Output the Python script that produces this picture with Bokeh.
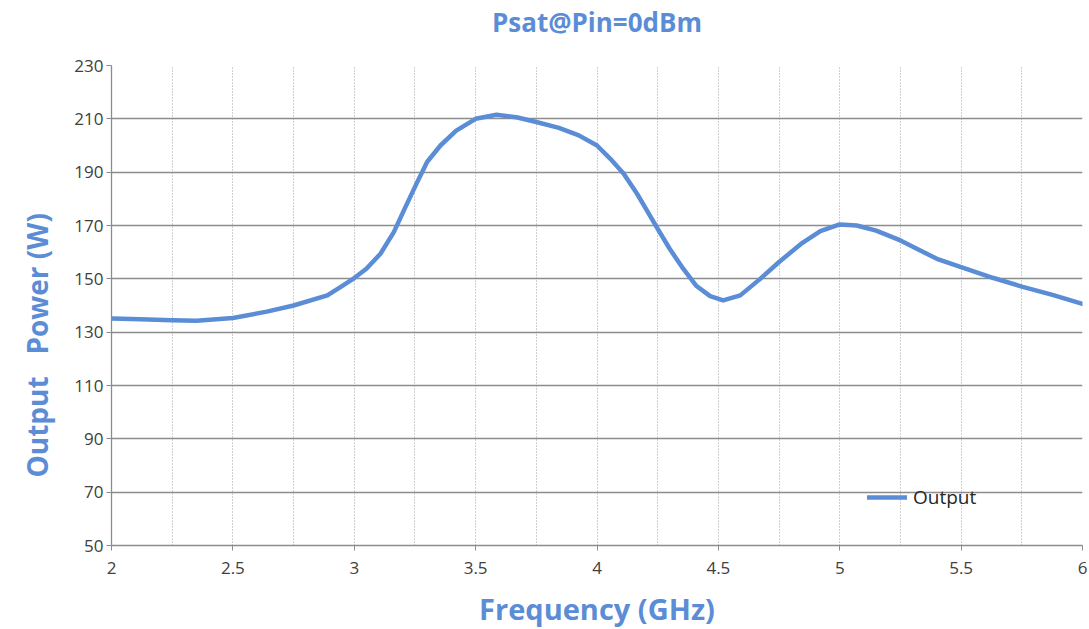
from bokeh.plotting import figure
from bokeh.models import (FixedTicker, NumeralTickFormatter, Range1d, Title, Legend,
                          LegendItem, LinearAxis)
from bokeh.embed import file_html
from bokeh.resources import INLINE

# Data
freq_ghz = [2.0, 2.12, 2.25, 2.35, 2.5, 2.64, 2.75, 2.889, 2.943, 3.0, 3.05, 3.108,
            3.163, 3.204, 3.256, 3.30, 3.355, 3.42, 3.5, 3.586, 3.668, 3.75, 3.843,
            3.925, 4.0, 4.055, 4.11, 4.165, 4.206, 4.25, 4.30, 4.355, 4.41, 4.466,
            4.52, 4.59, 4.67, 4.75, 4.84, 4.92, 5.0, 5.07, 5.15, 5.25, 5.40, 5.5,
            5.63, 5.75, 5.88, 6.0]
output_w = [135.1, 134.8, 134.5, 134.3, 135.3, 137.7, 140.0, 143.8, 146.9, 150.3, 153.8,
            159.4, 167.5, 175.6, 185.6, 193.8, 200.0, 205.6, 210.0, 211.5, 210.6, 208.8,
            206.6, 203.8, 200.0, 195.0, 189.4, 181.9, 175.6, 168.7, 161.2, 153.8, 147.3,
            143.5, 141.9, 143.8, 149.8, 156.3, 163.1, 167.9, 170.4, 170.0, 168.1, 164.4,
            157.5, 154.4, 150.4, 147.1, 143.9, 140.6]
x_ticks = [2, 2.5, 3, 3.5, 4, 4.5, 5, 5.5, 6]
x_grid = [2, 2.25, 2.5, 2.75, 3, 3.25, 3.5, 3.75, 4, 4.25, 4.5, 4.75, 5, 5.25, 5.5, 5.75, 6]
y_ticks = [50, 70, 90, 110, 130, 150, 170, 190, 210, 230]

title_text = "Psat@Pin=0dBm"
x_label = "Frequency (GHz)"
y_label = "Output\u00a0\u00a0\u00a0Power (W)"
series_name = "Output"

BLUE = "#5b8dd6"
FONT = "Open Sans"

p = figure(output_backend="svg", toolbar_location=None,
           frame_width=971, frame_height=480,
           min_border_left=111, min_border_top=65, min_border_right=7, min_border_bottom=84,
           x_range=Range1d(2, 6), y_range=Range1d(50, 230))

xax = p.below[0]
yax = p.yaxis[0]

# chart title drawn as the label of an empty top axis
top_axis = LinearAxis(ticker=FixedTicker(ticks=[]), axis_label=title_text,
                      axis_line_color=None, major_tick_line_color=None,
                      minor_tick_line_color=None, major_tick_out=0, major_tick_in=0,
                      minor_tick_out=0, major_label_text_font_size="0px",
                      major_label_standoff=0, axis_label_standoff=26,
                      axis_label_text_font=FONT, axis_label_text_font_size="26px",
                      axis_label_text_font_style="bold", axis_label_text_color=BLUE)
p.add_layout(top_axis, "above")

ylab = Title(text=y_label, align="left", offset=68, standoff=28, vertical_align="top",
             text_font=FONT, text_font_size="28px", text_font_style="bold",
             text_color=BLUE)
p.add_layout(ylab, "left")

p.outline_line_color = None
p.background_fill_color = "white"
p.border_fill_color = "white"

# x axis
xax.ticker = FixedTicker(ticks=x_ticks)
xax.formatter = NumeralTickFormatter(format="0.[0]")
xax.axis_label = x_label
xax.axis_label_text_font = FONT
xax.axis_label_text_font_size = "29px"
xax.axis_label_text_font_style = "bold"
xax.axis_label_text_color = BLUE
xax.axis_label_standoff = 12

# y axis
yax.ticker = FixedTicker(ticks=y_ticks)
for ax in (xax, yax):
    ax.axis_line_color = "#8c8c8c"
    ax.axis_line_width = 1.3
    ax.major_tick_line_color = "#8c8c8c"
    ax.major_tick_in = 0
    ax.major_tick_out = 5
    ax.minor_tick_line_color = None
    ax.major_label_text_font = FONT
    ax.major_label_text_font_size = "17px"
    ax.major_label_text_color = "#404040"
xax.major_label_standoff = 11
yax.major_label_standoff = 3

# grids
p.xgrid.ticker = FixedTicker(ticks=x_grid)
p.xgrid.grid_line_color = "#a0a0a0"
p.xgrid.grid_line_dash = "1 2"
p.xgrid.grid_line_width = 1
p.ygrid.ticker = FixedTicker(ticks=y_ticks)
p.ygrid.grid_line_color = "#8c8c8c"
p.ygrid.grid_line_width = 1.3

r = p.line(freq_ghz, output_w, line_color=BLUE, line_width=4.5, line_join="round", line_cap="round")

legend = Legend(items=[LegendItem(label=series_name, renderers=[r])],
                location=(756, 35), orientation="vertical",
                background_fill_alpha=0, border_line_color=None,
                padding=0, margin=0, glyph_width=40, glyph_height=20,
                label_standoff=6, label_text_font=FONT, label_text_font_size="19px",
                label_text_color="#262626")
p.add_layout(legend, "center")

open("out.html", "w").write(file_html(p, INLINE))
